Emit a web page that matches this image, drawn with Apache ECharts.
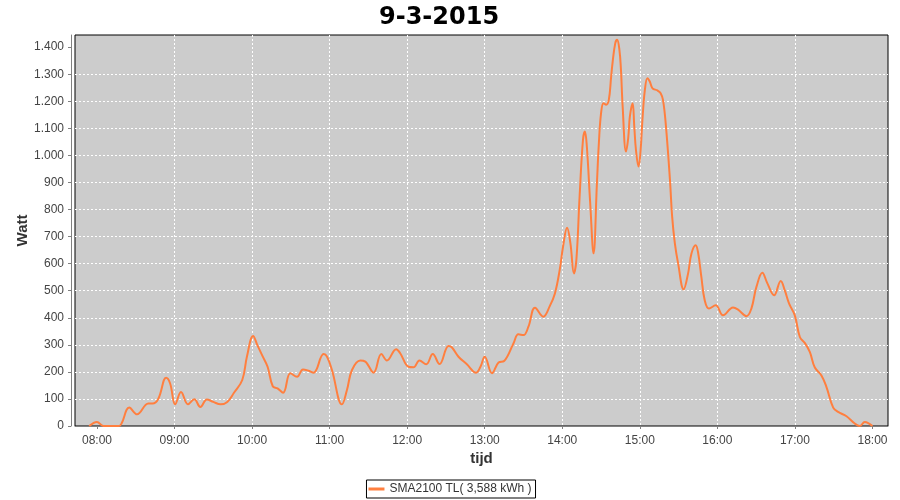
<!DOCTYPE html>
<html>
<head>
<meta charset="utf-8">
<script src="https://cdn.jsdelivr.net/npm/echarts@6/dist/echarts.min.js"></script>
<style>
  html, body { margin: 0; padding: 0; background: #fff; }
  #chart { width: 900px; height: 500px; }
</style>
</head>
<body>
<div id="chart"></div>
<script>
// tijdstip in minuten sinds middernacht, vermogen in watt
const minutes = [
  474, 480, 485, 497, 499, 505, 511, 519.7, 523, 527.5, 533.5, 536.6, 540.5, 545, 550.4,
  555.3, 560, 565, 570, 575.6, 580.8, 586, 592.4, 596, 600.8, 604, 608, 612, 616, 619.7,
  624, 629.6, 634.8, 639.4, 643.8, 647.6, 655.4, 658, 661.8, 669.5, 673.4, 677.3, 683.7,
  687.6, 694, 700, 704.3, 711.5, 714.6, 721, 724.9, 729.5, 734.7, 739.8, 745, 752, 754.5,
  759.7, 766, 773.3, 776.7, 780, 785.6, 790.7, 795, 802.3, 806, 810, 813.8, 818.9, 825.3,
  830.4, 834.3, 838, 840.6, 843.7, 846.3, 849, 850.9, 853.4, 856, 857.5, 859, 861.6, 864.2,
  866.8, 868.3, 870, 871.9, 873.9, 876, 877.8, 879, 881, 882.4, 884.2, 885.4, 886.7, 889.3,
  891, 892.3, 894.4, 895.7, 897, 899, 900.6, 902, 903.9, 905.9, 907.7, 909.8, 913.6, 916.1,
  917.9, 920, 923.3, 925, 927.1, 929.6, 933.9, 937.3, 939.9, 943.2, 945, 947.6, 950.2,
  953.5, 958.7, 964.4, 972.1, 976, 982.5, 986.3, 990.2, 994.8, 998.5, 1003.9, 1009, 1012.1,
  1015.5, 1019.9, 1023.8, 1027.6, 1031.5, 1035.4, 1040.5, 1044.4, 1049.6, 1053.4, 1059.9,
  1066.3, 1070.2, 1074, 1076.7, 1080
]
const watts = [
  0, 15, 0, 0, 9, 68, 43, 83, 83, 101, 178, 157, 80, 126, 80,
  99, 70, 98, 89, 80, 89, 123, 170, 256, 333, 300, 259, 219, 147, 139,
  123, 195, 182, 209, 204, 197, 266, 256, 207, 80, 133, 207, 242,
  238, 197, 266, 242, 284, 269, 219, 217, 242, 228, 266, 229, 296, 291,
  256, 229, 197, 219, 256, 195, 235, 240, 306, 339, 336, 367, 437, 404,
  444, 490, 577, 663, 733, 675, 564, 614, 848, 1057, 1088, 1033, 823, 638,
  897, 1045, 1156, 1193, 1187, 1205, 1291, 1347, 1415, 1427, 1390, 1316, 1181, 1014,
  1064, 1144, 1193, 1107, 1020, 959, 1020, 1131, 1242, 1285, 1273, 1248, 1240, 1230,
  1205, 1119, 910, 774, 675, 601, 505, 563, 637, 668, 643, 551, 465,
  434, 446, 409, 438, 430, 406, 434, 514, 566, 529, 483, 536, 502,
  452, 409, 329, 307, 274, 216, 187, 144, 68, 52, 36,
  9, 0, 15, 11, 0
]
// asticks
const hourTicks = [480, 540, 600, 660, 720, 780, 840, 900, 960, 1020, 1080]
const wattTicks = [0, 100, 200, 300, 400, 500, 600, 700, 800, 900, 1000, 1100, 1200, 1300, 1400]
const seriesName = 'SMA2100 TL( 3,588 kWh )'

const font = 'Liberation Sans'

const pad = (n) => String(n).padStart(2, '0')
const fmtTime = (v) => pad(Math.floor(v / 60)) + ':' + pad(Math.round(v % 60))
const fmtWatt = (v) => String(v).replace(/\B(?=(\d{3})+(?!\d))/g, '.')

const chart = echarts.init(document.getElementById('chart'))

chart.setOption({
  animation: false,
  backgroundColor: '#ffffff',
  title: {
    text: '9-3-2015',
    left: 374,
    top: 1,
    textStyle: { fontFamily: 'DejaVu Sans', fontSize: 24, fontWeight: 'bold', color: '#000' }
  },
  legend: {
    data: [seriesName],
    bottom: 2,
    left: 'center',
    icon: 'rect',
    itemWidth: 16,
    itemHeight: 3,
    itemGap: 4,
    padding: [3, 4, 3, 2],
    borderColor: '#000',
    borderWidth: 1,
    backgroundColor: '#fff',
    textStyle: { fontFamily: font, fontSize: 12, color: '#333' }
  },
  grid: {
    left: 75,
    right: 12,
    top: 35,
    bottom: 74,
    show: true,
    backgroundColor: '#cccccc',
    borderColor: '#000',
    borderWidth: 1
  },
  xAxis: {
    type: 'value',
    min: 463,
    max: 1092,
    offset: 3,
    name: 'tijd',
    nameLocation: 'middle',
    nameGap: 22,
    nameMoveOverlap: false,
    nameTextStyle: { fontFamily: font, fontSize: 15, fontWeight: 'bold', color: '#333' },
    axisLine: { show: true, lineStyle: { color: '#808080', width: 1 } },
    axisTick: { show: true, length: 3, customValues: hourTicks, lineStyle: { color: '#808080' } },
    axisLabel: {
      customValues: hourTicks,
      formatter: fmtTime,
      margin: 6,
      fontFamily: font,
      fontSize: 12,
      color: '#444'
    },
    splitLine: {
      show: true,
      showMinLine: false,
      showMaxLine: false,
      lineStyle: { color: '#ffffff', width: 1, type: [2, 2] }
    }
  },
  yAxis: {
    type: 'value',
    min: 0,
    max: 1445,
    offset: 4,
    name: 'Watt',
    nameLocation: 'middle',
    nameGap: 41,
    nameMoveOverlap: false,
    nameTextStyle: { fontFamily: font, fontSize: 15, fontWeight: 'bold', color: '#333' },
    axisLine: { show: true, lineStyle: { color: '#808080', width: 1 } },
    axisTick: { show: true, length: 3, customValues: wattTicks, lineStyle: { color: '#808080' } },
    axisLabel: {
      customValues: wattTicks,
      formatter: fmtWatt,
      margin: 7,
      fontFamily: font,
      fontSize: 12,
      color: '#444'
    },
    splitLine: {
      show: true,
      showMinLine: false,
      showMaxLine: false,
      lineStyle: { color: '#ffffff', width: 1, type: [2, 2] }
    }
  },
  series: [
    {
      name: seriesName,
      type: 'line',
      data: minutes.map((m, i) => [m, watts[i]]),
      showSymbol: false,
      smooth: 0.4,
      lineStyle: { color: '#ff7f3f', width: 2 },
      itemStyle: { color: '#ff7f3f' }
    }
  ]
})
</script>
</body>
</html>
